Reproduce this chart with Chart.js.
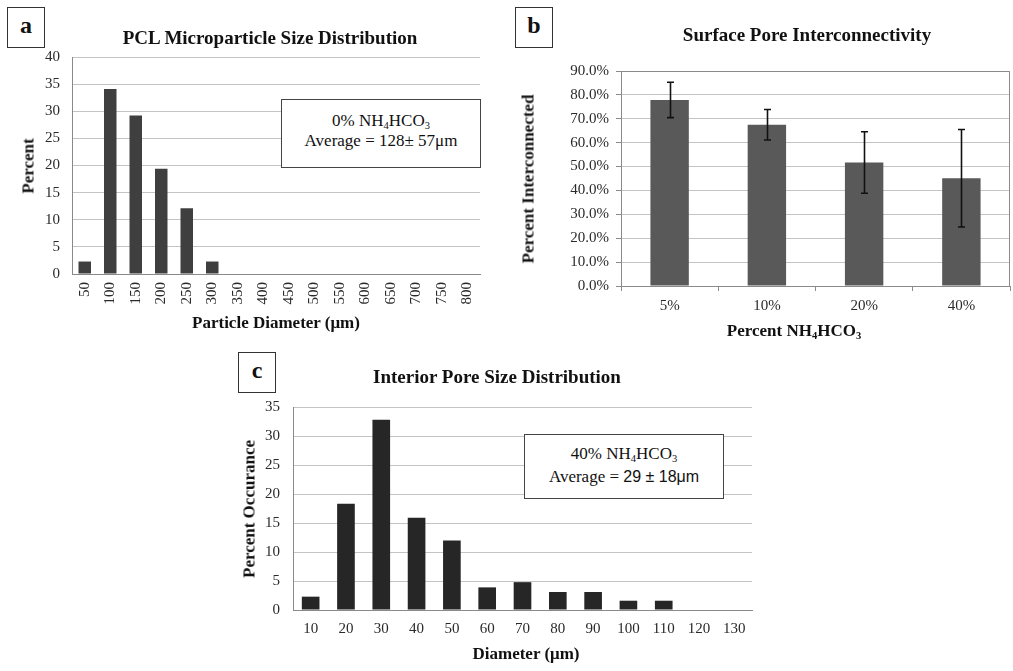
<!DOCTYPE html>
<html>
<head>
<meta charset="utf-8">
<script src="https://cdn.jsdelivr.net/npm/chart.js@4.4.1/dist/chart.umd.min.js"></script>
<style>
  html, body { margin: 0; padding: 0; background: #fff; }
  #wrap { position: relative; width: 1013px; height: 671px; overflow: hidden; font-family: "Liberation Serif", "Times New Roman", serif; color: #111; }
  canvas { position: absolute; left: 0; top: 0; }
  .lbl { position: absolute; transform: translate(-50%, -50%); white-space: nowrap; line-height: 1; }
  .bold { font-weight: bold; }
  .rot { transform: translate(-50%, -50%) rotate(-90deg); }
  .letter { position: absolute; border: 1.5px solid #333; box-sizing: border-box; background: #fff;
            font-weight: bold; font-size: 24px; display: flex; align-items: center; justify-content: center; padding-bottom: 4px; }
  .note { position: absolute; border: 1.5px solid #444; box-sizing: border-box; background: #fff; font-size: 17px; }
  .note div { position: absolute; left: 0; right: 0; text-align: center; line-height: 1; transform: translateY(-50%); }
  sub { font-size: 0.62em; vertical-align: -0.3em; line-height: 0; }
  .sans { font-family: "Liberation Sans", Arial, sans-serif; font-size: 16px; }
</style>
</head>
<body>
<div id="wrap">
  <canvas id="chartA" width="1013" height="671"></canvas>
  <canvas id="chartB" width="1013" height="671"></canvas>
  <canvas id="chartC" width="1013" height="671"></canvas>

  <!-- panel a -->
  <div class="letter" style="left:7px;top:7px;width:38px;height:41px;">a</div>
  <div class="lbl bold" style="left:270px;top:37px;font-size:19px;">PCL Microparticle Size Distribution</div>
  <div class="lbl bold rot" style="left:28px;top:166px;font-size:17px;">Percent</div>
  <div class="lbl bold" style="left:276px;top:322px;font-size:17px;">Particle Diameter (μm)</div>
  <div class="note" style="left:281px;top:99px;width:200px;height:69px;">
    <div style="top:20px;">0% NH<sub>4</sub>HCO<sub>3</sub></div>
    <div style="top:40px;">Average = 128± 57μm</div>
  </div>

  <!-- panel b -->
  <div class="letter" style="left:515px;top:7px;width:38px;height:41px;">b</div>
  <div class="lbl bold" style="left:807px;top:34px;font-size:19px;">Surface Pore Interconnectivity</div>
  <div class="lbl bold rot" style="left:528px;top:179px;font-size:17px;">Percent Interconnected</div>
  <div class="lbl bold" style="left:794px;top:330px;font-size:17px;">Percent NH<sub>4</sub>HCO<sub>3</sub></div>

  <!-- panel c -->
  <div class="letter" style="left:238px;top:352px;width:38px;height:41px;">c</div>
  <div class="lbl bold" style="left:497px;top:376px;font-size:19px;">Interior Pore Size Distribution</div>
  <div class="lbl bold rot" style="left:249px;top:509px;font-size:17px;">Percent Occurance</div>
  <div class="lbl bold" style="left:526px;top:653px;font-size:17px;">Diameter (μm)</div>
  <div class="note" style="left:524px;top:434px;width:200px;height:65px;">
    <div style="top:18px;">40% NH<sub>4</sub>HCO<sub>3</sub></div>
    <div style="top:41px;">Average = <span class="sans">29 ± 18μm</span></div>
  </div>
</div>

<script>
// (a) PCL microparticle size distribution
const particleDiameters = ['50','100','150','200','250','300','350','400','450','500','550','600','650','700','750','800'];
const particlePercent = [2.3, 34.1, 29.2, 19.4, 12.1, 2.3, 0, 0, 0, 0, 0, 0, 0, 0, 0, 0];
const particleTicks = [0, 5, 10, 15, 20, 25, 30, 35, 40];

// (b) surface pore interconnectivity
const porogenLevels = ['5%', '10%', '20%', '40%'];
const interconnected = [77.9, 67.5, 51.7, 45.1];
const interconnectedErr = [7.4, 6.4, 12.9, 20.4];
const interconnectTicks = [0, 10, 20, 30, 40, 50, 60, 70, 80, 90];

// (c) interior pore size distribution
const poreDiameters = ['10','20','30','40','50','60','70','80','90','100','110','120','130'];
const poreOccurrence = [2.3, 18.3, 32.8, 15.9, 12.0, 3.9, 4.8, 3.1, 3.1, 1.6, 1.6, 0, 0];
const poreTicks = [0, 5, 10, 15, 20, 25, 30, 35];

const SERIF = '"Liberation Serif", "Times New Roman", serif';
const GRID = '#c4c4c4';
const AXIS = '#8a8a8a';
const TICK_TXT = '#2a2a2a';

// stroke the full plot frame (used on panel b)
const framePlugin = {
  id: 'frame',
  afterDraw(chart, args, opts) {
    if (!opts || !opts.show) return;
    const { ctx, chartArea: a } = chart;
    ctx.save();
    ctx.strokeStyle = opts.color || AXIS;
    ctx.lineWidth = 1;
    ctx.beginPath();
    ctx.moveTo(a.left, a.top + 0.5);
    ctx.lineTo(a.right - 0.5, a.top + 0.5);
    ctx.lineTo(a.right - 0.5, a.bottom);
    ctx.stroke();
    ctx.restore();
  }
};

// symmetric error bars drawn through the value scale
const errorBarPlugin = {
  id: 'errorBars',
  afterDatasetsDraw(chart, args, opts) {
    if (!opts || !opts.errors) return;
    const { ctx } = chart;
    const yScale = chart.scales.y;
    const meta = chart.getDatasetMeta(0);
    const vals = chart.data.datasets[0].data;
    ctx.save();
    ctx.strokeStyle = '#111';
    ctx.lineWidth = 1.6;
    meta.data.forEach((bar, i) => {
      const e = opts.errors[i];
      const hi = yScale.getPixelForValue(vals[i] + e);
      const lo = yScale.getPixelForValue(vals[i] - e);
      const x = Math.round(bar.x) + 0.5;
      const cap = 3.5;
      ctx.beginPath();
      ctx.moveTo(x, hi); ctx.lineTo(x, lo);
      ctx.moveTo(x - cap, hi); ctx.lineTo(x + cap, hi);
      ctx.moveTo(x - cap, lo); ctx.lineTo(x + cap, lo);
      ctx.stroke();
    });
    ctx.restore();
  }
};

function fixedSize(w) { return s => { s.width = w; }; }
function fixedHeight(h) { return s => { s.height = h; }; }

function histogram(id, labels, data, ticks, color, barPct, box, opts) {
  const yMax = ticks[ticks.length - 1];
  const step = ticks[1] - ticks[0];
  return new Chart(document.getElementById(id), {
    type: 'bar',
    data: { labels, datasets: [{ data, backgroundColor: color, borderWidth: 0,
      categoryPercentage: 1.0, barPercentage: barPct }] },
    plugins: [framePlugin, errorBarPlugin],
    options: {
      responsive: false,
      animation: false,
      events: [],
      layout: { padding: box.padding },
      plugins: {
        legend: { display: false },
        title: { display: false },
        tooltip: { enabled: false },
        frame: { show: !!opts.frame, color: AXIS },
        errorBars: { errors: opts.errors || null }
      },
      scales: {
        x: {
          afterFit: fixedHeight(box.xHeight),
          grid: { display: !!opts.xTicks, drawOnChartArea: false, drawTicks: !!opts.xTicks,
                  tickLength: 5, color: AXIS, offset: true },
          border: { display: true, color: AXIS, width: 1 },
          ticks: {
            color: TICK_TXT,
            font: { family: SERIF, size: opts.xFont || 15 },
            padding: opts.xPad,
            autoSkip: false,
            maxRotation: opts.rotate ? 90 : 0,
            minRotation: opts.rotate ? 90 : 0
          }
        },
        y: {
          min: 0, max: yMax,
          afterFit: fixedSize(box.yWidth),
          afterBuildTicks: s => { s.ticks = ticks.map(v => ({ value: v })); },
          grid: { color: GRID, lineWidth: 1, drawTicks: !!opts.yTicks, tickLength: 5,
                  tickColor: AXIS },
          border: { display: true, color: AXIS, width: 1 },
          ticks: {
            color: TICK_TXT,
            font: { family: SERIF, size: 15 },
            padding: opts.yPad,
            stepSize: step,
            callback: opts.yFormat || (v => v)
          }
        }
      }
    }
  });
}

// panel a: plot area x 72..480, y 57..274
histogram('chartA', particleDiameters, particlePercent, particleTicks, '#3f3f3f', 0.49,
  { padding: { left: 0, top: 57, right: 1013 - 480, bottom: 671 - 274 - 40 }, yWidth: 72, xHeight: 40 },
  { rotate: true, xPad: 8, yPad: 12, xFont: 15 });

// panel b: plot area x 621..1010, y 71..286
histogram('chartB', porogenLevels, interconnected, interconnectTicks, '#595959', 0.395,
  { padding: { left: 560, top: 71, right: 3, bottom: 671 - 286 - 40 }, yWidth: 61, xHeight: 40 },
  { frame: true, xTicks: true, yTicks: true, xPad: 6, yPad: 7, errors: interconnectedErr,
    yFormat: v => v.toFixed(1) + '%' });

// panel c: plot area x 293..752, y 407..610
histogram('chartC', poreDiameters, poreOccurrence, poreTicks, '#262626', 0.5,
  { padding: { left: 240, top: 407, right: 1013 - 752, bottom: 671 - 610 - 40 }, yWidth: 53, xHeight: 40 },
  { xPad: 10, yPad: 13 });
</script>
</body>
</html>
